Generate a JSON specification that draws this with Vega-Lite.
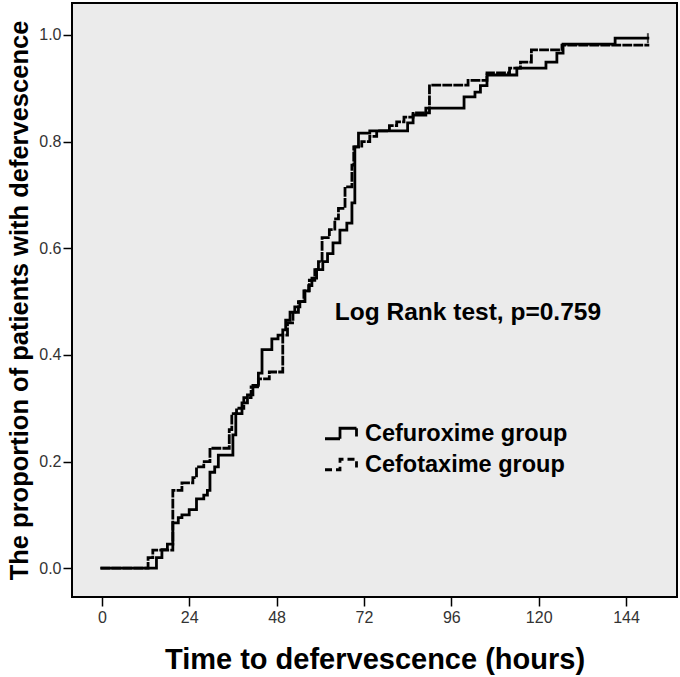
{
  "$schema": "https://vega.github.io/schema/vega-lite/v6.json",
  "width": 605,
  "height": 594,
  "autosize": "none",
  "padding": {"left": 72, "top": 3, "right": 3, "bottom": 80},
  "background": "white",
  "config": {
    "view": {"fill": "#ebebeb", "stroke": "black", "strokeWidth": 2},
    "font": "Liberation Sans"
  },
  "datasets": {
    "km": [
      {"group": "Cefuroxime group", "t": 0, "p": 0},
      {"group": "Cefuroxime group", "t": 15, "p": 0.02},
      {"group": "Cefuroxime group", "t": 16.5, "p": 0.035},
      {"group": "Cefuroxime group", "t": 18, "p": 0.045},
      {"group": "Cefuroxime group", "t": 19.5, "p": 0.085},
      {"group": "Cefuroxime group", "t": 21, "p": 0.095},
      {"group": "Cefuroxime group", "t": 22, "p": 0.1},
      {"group": "Cefuroxime group", "t": 24, "p": 0.11},
      {"group": "Cefuroxime group", "t": 26, "p": 0.13},
      {"group": "Cefuroxime group", "t": 28, "p": 0.137},
      {"group": "Cefuroxime group", "t": 29, "p": 0.146},
      {"group": "Cefuroxime group", "t": 29.7, "p": 0.18},
      {"group": "Cefuroxime group", "t": 31, "p": 0.19},
      {"group": "Cefuroxime group", "t": 32, "p": 0.212},
      {"group": "Cefuroxime group", "t": 36, "p": 0.25},
      {"group": "Cefuroxime group", "t": 36.8, "p": 0.29},
      {"group": "Cefuroxime group", "t": 38.5, "p": 0.31},
      {"group": "Cefuroxime group", "t": 40, "p": 0.325},
      {"group": "Cefuroxime group", "t": 41.5, "p": 0.343},
      {"group": "Cefuroxime group", "t": 43, "p": 0.366},
      {"group": "Cefuroxime group", "t": 44, "p": 0.41},
      {"group": "Cefuroxime group", "t": 46.7, "p": 0.43},
      {"group": "Cefuroxime group", "t": 48.4, "p": 0.437},
      {"group": "Cefuroxime group", "t": 49.7, "p": 0.447},
      {"group": "Cefuroxime group", "t": 50.5, "p": 0.465},
      {"group": "Cefuroxime group", "t": 51.7, "p": 0.48},
      {"group": "Cefuroxime group", "t": 53, "p": 0.49},
      {"group": "Cefuroxime group", "t": 54.4, "p": 0.5},
      {"group": "Cefuroxime group", "t": 55.8, "p": 0.52},
      {"group": "Cefuroxime group", "t": 56.8, "p": 0.53},
      {"group": "Cefuroxime group", "t": 57.7, "p": 0.544},
      {"group": "Cefuroxime group", "t": 59, "p": 0.56},
      {"group": "Cefuroxime group", "t": 60.7, "p": 0.575},
      {"group": "Cefuroxime group", "t": 62, "p": 0.59},
      {"group": "Cefuroxime group", "t": 63.5, "p": 0.61},
      {"group": "Cefuroxime group", "t": 65.4, "p": 0.634},
      {"group": "Cefuroxime group", "t": 67.3, "p": 0.647},
      {"group": "Cefuroxime group", "t": 68.7, "p": 0.685},
      {"group": "Cefuroxime group", "t": 69.5, "p": 0.79},
      {"group": "Cefuroxime group", "t": 70.5, "p": 0.816},
      {"group": "Cefuroxime group", "t": 73.6, "p": 0.82},
      {"group": "Cefuroxime group", "t": 84, "p": 0.835},
      {"group": "Cefuroxime group", "t": 85.5, "p": 0.85},
      {"group": "Cefuroxime group", "t": 89, "p": 0.863},
      {"group": "Cefuroxime group", "t": 99.5, "p": 0.884},
      {"group": "Cefuroxime group", "t": 102.5, "p": 0.893},
      {"group": "Cefuroxime group", "t": 104, "p": 0.905},
      {"group": "Cefuroxime group", "t": 105.8, "p": 0.925},
      {"group": "Cefuroxime group", "t": 114, "p": 0.938},
      {"group": "Cefuroxime group", "t": 122, "p": 0.949},
      {"group": "Cefuroxime group", "t": 125, "p": 0.966},
      {"group": "Cefuroxime group", "t": 126.7, "p": 0.983},
      {"group": "Cefuroxime group", "t": 141, "p": 0.994},
      {"group": "Cefuroxime group", "t": 150, "p": 0.994},
      {"group": "Cefotaxime group", "t": 0, "p": 0},
      {"group": "Cefotaxime group", "t": 12.7, "p": 0.02},
      {"group": "Cefotaxime group", "t": 14, "p": 0.034},
      {"group": "Cefotaxime group", "t": 19.5, "p": 0.146},
      {"group": "Cefotaxime group", "t": 22, "p": 0.16},
      {"group": "Cefotaxime group", "t": 25, "p": 0.17},
      {"group": "Cefotaxime group", "t": 26, "p": 0.19},
      {"group": "Cefotaxime group", "t": 28, "p": 0.2},
      {"group": "Cefotaxime group", "t": 29.7, "p": 0.225},
      {"group": "Cefotaxime group", "t": 35, "p": 0.26},
      {"group": "Cefotaxime group", "t": 35.7, "p": 0.29},
      {"group": "Cefotaxime group", "t": 37, "p": 0.3},
      {"group": "Cefotaxime group", "t": 39, "p": 0.32},
      {"group": "Cefotaxime group", "t": 41, "p": 0.34},
      {"group": "Cefotaxime group", "t": 43, "p": 0.355},
      {"group": "Cefotaxime group", "t": 46, "p": 0.368},
      {"group": "Cefotaxime group", "t": 49.7, "p": 0.437},
      {"group": "Cefotaxime group", "t": 51, "p": 0.46},
      {"group": "Cefotaxime group", "t": 52.5, "p": 0.48},
      {"group": "Cefotaxime group", "t": 54, "p": 0.5},
      {"group": "Cefotaxime group", "t": 55.5, "p": 0.52},
      {"group": "Cefotaxime group", "t": 57, "p": 0.54},
      {"group": "Cefotaxime group", "t": 58.5, "p": 0.56},
      {"group": "Cefotaxime group", "t": 59.5, "p": 0.575},
      {"group": "Cefotaxime group", "t": 60.5, "p": 0.62},
      {"group": "Cefotaxime group", "t": 62.5, "p": 0.635},
      {"group": "Cefotaxime group", "t": 64, "p": 0.655},
      {"group": "Cefotaxime group", "t": 65, "p": 0.675},
      {"group": "Cefotaxime group", "t": 66.8, "p": 0.715},
      {"group": "Cefotaxime group", "t": 68.7, "p": 0.756},
      {"group": "Cefotaxime group", "t": 69.2, "p": 0.79},
      {"group": "Cefotaxime group", "t": 71.4, "p": 0.8},
      {"group": "Cefotaxime group", "t": 73.6, "p": 0.81},
      {"group": "Cefotaxime group", "t": 75.5, "p": 0.82},
      {"group": "Cefotaxime group", "t": 79, "p": 0.83},
      {"group": "Cefotaxime group", "t": 81, "p": 0.837},
      {"group": "Cefotaxime group", "t": 83, "p": 0.846},
      {"group": "Cefotaxime group", "t": 85.5, "p": 0.854},
      {"group": "Cefotaxime group", "t": 90, "p": 0.906},
      {"group": "Cefotaxime group", "t": 100.6, "p": 0.915},
      {"group": "Cefotaxime group", "t": 105.8, "p": 0.929},
      {"group": "Cefotaxime group", "t": 112, "p": 0.938},
      {"group": "Cefotaxime group", "t": 115, "p": 0.949},
      {"group": "Cefotaxime group", "t": 118, "p": 0.972},
      {"group": "Cefotaxime group", "t": 126.4, "p": 0.981},
      {"group": "Cefotaxime group", "t": 150, "p": 0.981}
    ],
    "cens": [
      {"group": "Cefuroxime group", "t": 150, "p": 0.994}
    ],
    "note": [
      {"t": 64, "p": 0.478, "label": "Log Rank test, p=0.759"}
    ]
  },
  "layer": [
    {
      "data": {"name": "km"},
      "mark": {"type": "line", "interpolate": "step-after", "strokeWidth": 2.8, "color": "black", "strokeCap": "square"},
      "encoding": {
        "x": {
          "field": "t", "type": "quantitative",
          "scale": {"domain": [-8.2, 158], "nice": false, "zero": false},
          "axis": {
            "values": [0, 24, 48, 72, 96, 120, 144],
            "domain": false, "grid": false,
            "tickSize": 9, "tickColor": "black", "tickWidth": 1.5,
            "labelFontSize": 16, "labelColor": "#333333", "labelPadding": 3,
            "title": "Time to defervescence (hours)",
            "titleFontSize": 29, "titleFontWeight": "bold", "titleColor": "black", "titlePadding": 20
          }
        },
        "y": {
          "field": "p", "type": "quantitative",
          "scale": {"domain": [-0.054, 1.06], "nice": false, "zero": false},
          "axis": {
            "values": [0, 0.2, 0.4, 0.6, 0.8, 1.0],
            "format": ".1f",
            "domain": false, "grid": false,
            "tickSize": 9, "tickColor": "black", "tickWidth": 1.5,
            "labelFontSize": 16, "labelColor": "#333333", "labelPadding": 2,
            "title": "The proportion of patients with defervescence",
            "titleFontSize": 25.5, "titleFontWeight": "bold", "titleColor": "black", "titlePadding": 6
          }
        },
        "strokeDash": {
          "field": "group", "type": "nominal",
          "scale": {"domain": ["Cefuroxime group", "Cefotaxime group"], "range": [[1, 0], [7, 4]]},
          "legend": {
            "orient": "none", "legendX": 253, "legendY": 414,
            "title": null,
            "symbolType": "M-1.1,0.35H-0.1V-0.35H1.0V0.2",
            "symbolSize": 900,
            "symbolStrokeWidth": 2.8,
            "symbolStrokeColor": "black",
            "labelFontSize": 23.5, "labelFontWeight": "bold", "labelColor": "black",
            "labelOffset": 7, "labelLimit": 0,
            "rowPadding": 3
          }
        }
      }
    },
    {
      "data": {"name": "cens"},
      "mark": {"type": "tick", "orient": "vertical", "color": "black", "thickness": 2, "size": 10},
      "encoding": {
        "x": {"field": "t", "type": "quantitative"},
        "y": {"field": "p", "type": "quantitative"}
      }
    },
    {
      "data": {"name": "note"},
      "mark": {"type": "text", "align": "left", "baseline": "middle", "fontSize": 24.5, "fontWeight": "bold", "color": "black"},
      "encoding": {
        "x": {"field": "t", "type": "quantitative"},
        "y": {"field": "p", "type": "quantitative"},
        "text": {"field": "label"}
      }
    }
  ]
}
